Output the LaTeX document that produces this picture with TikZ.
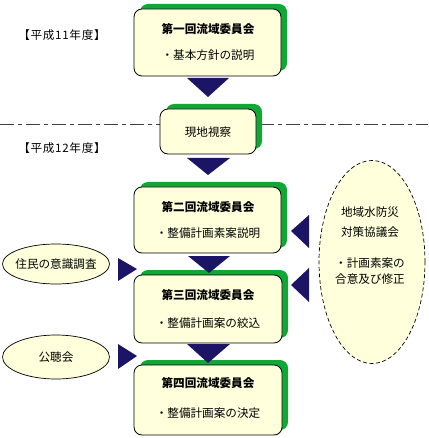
\documentclass[tikz,border=0pt]{standalone}
\usepackage{fontspec}
\newfontfamily\jp{Noto Sans CJK JP}
\usetikzlibrary{shapes.geometric}
\definecolor{boxfill}{HTML}{FFFFDC}
\definecolor{shadowgreen}{HTML}{0FA834}
\definecolor{navy}{HTML}{1C1464}
\tikzset{
  mainbox/.style={draw=black, line width=0.8pt, fill=boxfill, rounded corners=8pt},
  shadowbox/.style={fill=shadowgreen, rounded corners=8pt},
  tri/.style={fill=navy},
  txt/.style={font=\jp\fontsize{11.6}{13}\selectfont, inner sep=0pt},
  lbl/.style={font=\jp\fontsize{11.6}{13}\selectfont\addfontfeatures{LetterSpace=6}, inner sep=0pt},
  ttl/.style={font=\jp\bfseries\fontsize{11.6}{13}\selectfont, inner sep=0pt},
  ovl/.style={draw=black, line width=0.7pt, fill=boxfill, ellipse},
}
\begin{document}
\begin{tikzpicture}[x=1pt,y=-1pt]
\useasboundingbox (0,0) rectangle (428,438);
% dash-dot separator
\draw[line width=1pt, black!75, dash pattern=on 14pt off 4pt on 4pt off 4pt] (0,125) -- (428,125);
% labels
\node[lbl] (y11) at (62,35) {【平成11年度】};
\node[lbl] (y12) at (62,148) {【平成12年度】};
% boxes
\newcommand{\jbox}[5]{% name, x1,y1,x2,y2
  \fill[shadowbox] (#2+6,#3-5) rectangle (#4+6,#5-5);
  \draw[mainbox] (#2,#3) rectangle (#4,#5);
  \coordinate (#1) at ({(#2+#4)/2},{(#3+#5)/2});
}
\jbox{b1}{134}{9}{281}{76}
\jbox{b2}{160}{109}{256}{154}
\jbox{b3}{134}{187}{281}{253}
\jbox{b4}{134}{275}{282}{343}
\jbox{b5}{134}{365}{282}{435}
\node[ttl] (t1) at (208,29) {第一回流域委員会};
\node[txt] (s1) at (208,55) {・基本方針の説明};
\node[txt] (t2) at (208,132) {現地視察};
\node[ttl] (t3) at (208,207) {第二回流域委員会};
\node[txt] (s3) at (208,233) {・整備計画素案説明};
\node[ttl] (t4) at (208,295) {第三回流域委員会};
\node[txt] (s4) at (208,323) {・整備計画案の絞込};
\node[ttl] (t5) at (208,383) {第四回流域委員会};
\node[txt] (s5) at (208,413) {・整備計画案の決定};
% ellipses
\node[ovl, minimum width=107pt, minimum height=40pt, inner sep=0pt] (e1) at (56,264) {};
\node[txt] at (e1) {住民の意識調査};
\node[ovl, minimum width=107pt, minimum height=44pt, inner sep=0pt] (e2) at (56,357) {};
\node[txt] at (e2) {公聴会};
\node[ovl, dashed, dash pattern=on 4pt off 2.5pt, minimum width=106pt, minimum height=203pt, inner sep=0pt] (e3) at (372,262) {};
\node[txt] (e3a) at (370,212) {地域水防災};
\node[txt] (e3b) at (370,232) {対策協議会};
\node[txt] (e3c) at (370,263) {・計画素案の};
\node[txt] (e3d) at (370,279) {合意及び修正};
% down triangles
\fill[tri] (187,78) -- (229,78) -- (208,97) -- cycle;
\fill[tri] (187,158) -- (230,158) -- (208,175) -- cycle;
\fill[tri] (188,256) -- (230,256) -- (209,273) -- cycle;
\fill[tri] (187,344) -- (230,344) -- (208,363) -- cycle;
% right triangles
\fill[tri] (118,258) -- (137,269) -- (118,281) -- cycle;
\fill[tri] (118,344) -- (137,356) -- (118,369) -- cycle;
% left triangles
\fill[tri] (309,215) -- (291,231) -- (309,248) -- cycle;
\fill[tri] (309,268) -- (291,285) -- (309,302) -- cycle;
\end{tikzpicture}
\end{document}
